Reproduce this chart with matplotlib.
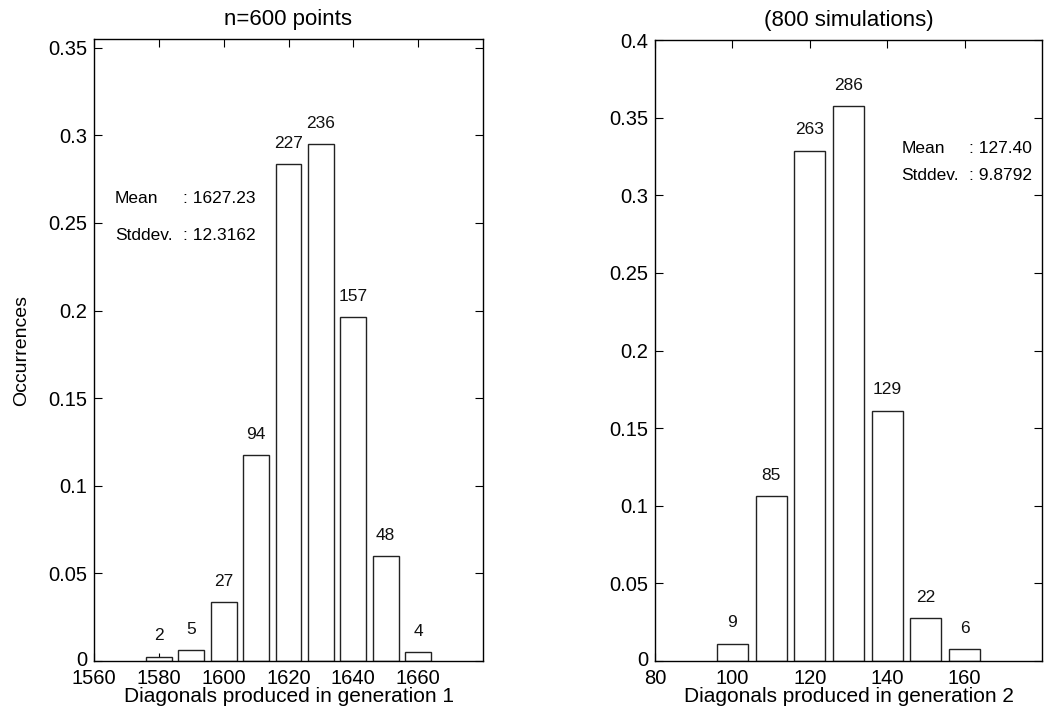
import matplotlib
matplotlib.use("Agg")
import matplotlib.pyplot as plt
import matplotlib.transforms as mtransforms
import numpy as np

plt.rcParams['font.family'] = ['Liberation Sans', 'DejaVu Sans']

# Left histogram (generation 1)
gen1_centers = [1580, 1590, 1600, 1610, 1620, 1630, 1640, 1650, 1660]
gen1_counts = [2, 5, 27, 94, 227, 236, 157, 48, 4]
gen1_total = 800
gen1_mean = "1627.23"
gen1_std = "12.3162"
gen1_xticks = [1560, 1580, 1600, 1620, 1640, 1660]
gen1_yticks = [0, 0.05, 0.1, 0.15, 0.2, 0.25, 0.3, 0.35]
gen1_yticklabels = ["0", "0.05", "0.1", "0.15", "0.2", "0.25", "0.3", "0.35"]

# Right histogram (generation 2)
gen2_centers = [100, 110, 120, 130, 140, 150, 160]
gen2_counts = [9, 85, 263, 286, 129, 22, 6]
gen2_total = 800
gen2_mean = "127.40"
gen2_std = "9.8792"
gen2_xticks = [80, 100, 120, 140, 160]
gen2_yticks = [0, 0.05, 0.1, 0.15, 0.2, 0.25, 0.3, 0.35, 0.4]
gen2_yticklabels = ["0", "0.05", "0.1", "0.15", "0.2", "0.25", "0.3", "0.35", "0.4"]

W, H = 1060, 719
fig = plt.figure(figsize=(W / 100, H / 100), dpi=100)

ax1 = fig.add_axes([94 / W, 1 - 661 / H, (483 - 94) / W, (661 - 39) / H])
ax2 = fig.add_axes([655 / W, 1 - 661 / H, (1042 - 655) / W, (661 - 40) / H])

def draw(ax, centers, counts, total, xticks, xlim, yticks, ylabels, ylim,
         title, xlabel, mean, std, tx, tcol, ty1, ty2):
    freqs = np.array(counts) / total
    ax.bar(centers, freqs, width=8, facecolor='white', edgecolor='#222222',
           linewidth=1.0, zorder=2)
    for c, f, n in zip(centers, freqs, counts):
        ax.annotate(str(n), (c, f), xytext=(0, 15), textcoords='offset points',
                    ha='center', va='center', fontsize=12.5, color='#111111')
    ax.set_xlim(*xlim)
    ax.set_ylim(*ylim)
    ax.set_xticks(xticks)
    ax.set_xticklabels([str(t) for t in xticks])
    ax.set_yticks(yticks)
    ax.set_yticklabels(ylabels)
    ax.tick_params(direction='in', top=True, right=True, length=5.5,
                   width=0.8, labelsize=14.5)
    ax.tick_params(axis='x', pad=6)
    ax.tick_params(axis='y', pad=5)
    for s in ax.spines.values():
        s.set_linewidth(1.0)
    ax.set_title(title, fontsize=16, pad=10)
    ax.set_xlabel(xlabel, fontsize=15, labelpad=-1)
    ax.text(tx, ty1, "Mean", fontsize=12.5, ha='left', va='center')
    ax.text(tcol, ty1, ": " + mean, fontsize=12.5, ha='left', va='center')
    ax.text(tx, ty2, "Stddev.", fontsize=12.5, ha='left', va='center')
    ax.text(tcol, ty2, ": " + std, fontsize=12.5, ha='left', va='center')
    # lift the "0" y label a little so it clears the first x label
    zero_lbl = ax.get_yticklabels()[0]
    zero_lbl.set_transform(zero_lbl.get_transform() +
                           mtransforms.ScaledTranslation(0, 3 / 100, fig.dpi_scale_trans))

draw(ax1, gen1_centers, gen1_counts, gen1_total, gen1_xticks, (1560, 1680),
     gen1_yticks, gen1_yticklabels, (0, 0.355), "n=600 points",
     "Diagonals produced in generation 1", gen1_mean, gen1_std,
     1566.5, 1587.4, 0.264, 0.243)
draw(ax2, gen2_centers, gen2_counts, gen2_total, gen2_xticks, (80, 180),
     gen2_yticks, gen2_yticklabels, (0, 0.4), "(800 simulations)",
     "Diagonals produced in generation 2", gen2_mean, gen2_std,
     143.6, 161.1, 0.330, 0.313)

fig.text(22 / W, 0.5 - ((661 + 39) / 2 - H / 2) / H, "Occurrences",
         rotation=90, ha='center', va='center', fontsize=14,
         family=['Liberation Sans Narrow', 'Liberation Sans', 'DejaVu Sans'])

fig.savefig("out.png", dpi=100)
